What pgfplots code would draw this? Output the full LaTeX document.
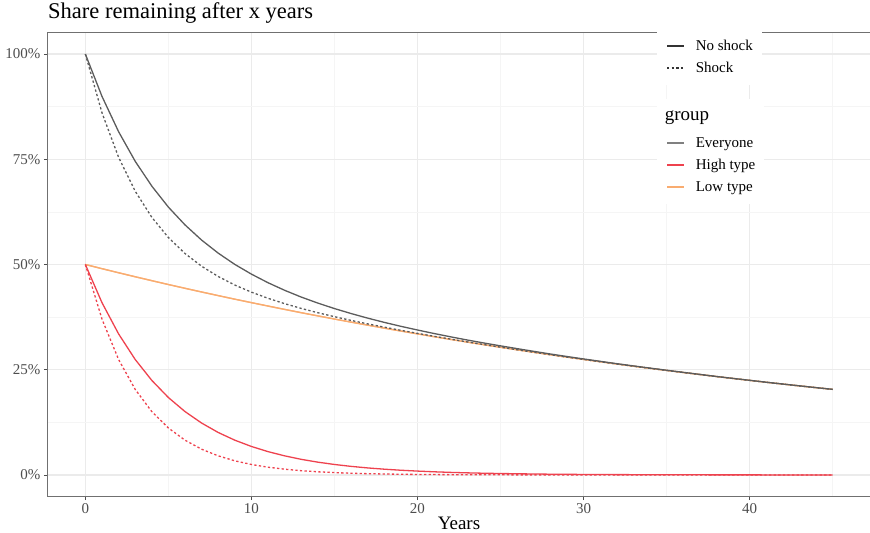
\documentclass[border=0pt]{standalone}
\usepackage{fontspec}
\setmainfont{Liberation Serif}
\usepackage{pgfplots}
\pgfplotsset{compat=1.18}
\usepackage{pgfplotstable}

\definecolor{evcol}{RGB}{92,92,92}
\definecolor{evkey}{RGB}{128,128,128}
\definecolor{hicol}{RGB}{238,66,78}
\definecolor{locol}{RGB}{249,172,112}
\definecolor{gridmaj}{RGB}{235,235,235}
\definecolor{gridmin}{RGB}{245,245,245}
\definecolor{tickcol}{RGB}{77,77,77}
\definecolor{framecol}{RGB}{112,112,112}

% share remaining (%) by year, without and with the shock
\pgfplotstableread{
year noshock shock
0 100.00 100.00
1 89.95 86.05
2 81.56 75.48
3 74.53 67.42
4 68.63 61.22
5 63.63 56.40
6 59.41 52.61
7 55.80 49.59
8 52.70 47.15
9 50.02 45.12
10 47.71 43.43
11 45.67 41.97
12 43.87 40.70
13 42.26 39.56
14 40.83 38.54
15 39.53 37.60
16 38.35 36.72
17 37.26 35.89
18 36.25 35.11
19 35.31 34.36
20 34.44 33.64
21 33.60 32.94
22 32.81 32.27
23 32.06 31.61
24 31.35 30.98
25 30.67 30.36
26 30.01 29.75
27 29.37 29.16
28 28.74 28.57
29 28.14 28.00
30 27.56 27.45
31 27.00 26.90
32 26.44 26.36
33 25.91 25.84
34 25.39 25.33
35 24.88 24.83
36 24.38 24.34
37 23.89 23.86
38 23.40 23.38
39 22.94 22.92
40 22.49 22.47
41 22.03 22.02
42 21.60 21.59
43 21.17 21.16
44 20.75 20.74
45 20.34 20.33
}\everyone

\pgfplotstableread{
year noshock shock
0 50.00 50.00
1 40.94 37.04
2 33.52 27.44
3 27.44 20.33
4 22.47 15.06
5 18.39 11.16
6 15.06 8.26
7 12.33 6.12
8 10.09 4.54
9 8.26 3.36
10 6.77 2.49
11 5.54 1.84
12 4.54 1.37
13 3.71 1.01
14 3.04 0.75
15 2.49 0.56
16 2.04 0.41
17 1.67 0.30
18 1.37 0.23
19 1.12 0.17
20 0.92 0.12
21 0.75 0.09
22 0.61 0.07
23 0.50 0.05
24 0.41 0.04
25 0.34 0.03
26 0.28 0.02
27 0.23 0.02
28 0.18 0.01
29 0.15 0.01
30 0.12 0.01
31 0.10 0.00
32 0.08 0.00
33 0.07 0.00
34 0.06 0.00
35 0.05 0.00
36 0.04 0.00
37 0.03 0.00
38 0.02 0.00
39 0.02 0.00
40 0.02 0.00
41 0.01 0.00
42 0.01 0.00
43 0.01 0.00
44 0.01 0.00
45 0.01 0.00
}\hightype

\pgfplotstableread{
year noshock shock
0 50.00 50.00
1 49.01 49.01
2 48.04 48.04
3 47.09 47.09
4 46.16 46.16
5 45.24 45.24
6 44.35 44.35
7 43.47 43.47
8 42.61 42.61
9 41.76 41.76
10 40.94 40.94
11 40.13 40.13
12 39.33 39.33
13 38.55 38.55
14 37.79 37.79
15 37.04 37.04
16 36.31 36.31
17 35.59 35.59
18 34.88 34.88
19 34.19 34.19
20 33.52 33.52
21 32.85 32.85
22 32.20 32.20
23 31.56 31.56
24 30.94 30.94
25 30.33 30.33
26 29.73 29.73
27 29.14 29.14
28 28.56 28.56
29 27.99 27.99
30 27.44 27.44
31 26.90 26.90
32 26.36 26.36
33 25.84 25.84
34 25.33 25.33
35 24.83 24.83
36 24.34 24.34
37 23.86 23.86
38 23.38 23.38
39 22.92 22.92
40 22.47 22.47
41 22.02 22.02
42 21.59 21.59
43 21.16 21.16
44 20.74 20.74
45 20.33 20.33
}\lowtype

\pgfplotsset{
  common/.style={
    scale only axis, width=822bp, height=463bp,
    xmin=-2.25, xmax=47.25, ymin=-5, ymax=105,
  },
  keyed legend/.style={
    legend image code/.code={\draw[##1, line width=1.5bp] (0bp,0bp) -- (17bp,0bp);},
    legend cell align=left,
    legend style={
      anchor=north west, fill=white, draw=none,
      font=\fontsize{15bp}{18bp}\selectfont,
      inner xsep=9bp, inner ysep=10bp,
      row sep=8bp,
      /tikz/every odd column/.style={column sep=11bp},
      nodes={inner sep=0bp, text height=11bp, text depth=3bp},
    },
  },
}

\tikzset{
  shockline/.style={line width=1.3bp, dash pattern=on 2.3bp off 2.3bp},
  solidline/.style={line width=1.3bp},
}

\begin{document}
\begin{tikzpicture}
\begin{axis}[
  common, name=main,
  xtick={0,10,...,40}, minor xtick={5,15,...,45},
  ytick={0,25,...,100}, minor ytick={12.5,37.5,62.5,87.5},
  grid=both,
  major grid style={gridmaj, line width=1.1bp},
  minor grid style={gridmin, line width=0.6bp},
  axis line style={framecol, line width=1bp},
  tick align=outside, major tick length=4bp, minor tick length=0bp,
  tick style={tickcol, line width=0.9bp},
  xtick pos=bottom, ytick pos=left,
  /pgf/number format/assume math mode=true,
  ticklabel style={font=\fontsize{15bp}{18bp}\selectfont, text=tickcol},
  yticklabel={\pgfmathprintnumber{\tick}\%},
  xlabel={Years},
  xlabel style={font=\fontsize{19bp}{22bp}\selectfont, at={(axis description cs:0.5,0)}, anchor=base, yshift=-33bp, inner sep=0bp},
  title={Share remaining after x years},
  title style={at={(axis description cs:0,1.0194)}, anchor=base west, inner sep=0bp,
    font=\fontsize{22.5bp}{26bp}\selectfont},
  keyed legend,
  legend style={at={(axis description cs:0.741,1.0086)}},
]
\addlegendimage{solidline, black!80}
\addlegendentry{No shock}
\addlegendimage{shockline, black!80}
\addlegendentry{Shock}

\addplot[locol, solidline, forget plot] table[x=year, y=shock] {\lowtype};
\addplot[locol, solidline, forget plot] table[x=year, y=noshock] {\lowtype};
\addplot[hicol, shockline, forget plot] table[x=year, y=shock] {\hightype};
\addplot[hicol, solidline, forget plot] table[x=year, y=noshock] {\hightype};
\addplot[evcol, shockline, forget plot] table[x=year, y=shock] {\everyone};
\addplot[evcol, solidline, forget plot] table[x=year, y=noshock] {\everyone};
\end{axis}

% second key: colour by group
\begin{axis}[
  common, hide axis,
  keyed legend,
  legend style={at={(axis description cs:0.741,0.8575)}},
]
\addlegendimage{empty legend}
\addlegendentry[font=\fontsize{19bp}{22bp}\selectfont, text depth=8bp]{\hspace{-31bp}group}
\addlegendimage{evkey, solidline}
\addlegendentry{Everyone}
\addlegendimage{hicol, solidline}
\addlegendentry{High type}
\addlegendimage{locol, solidline}
\addlegendentry{Low type}
\end{axis}

\pgfresetboundingbox
\path[use as bounding box] ([shift={(-48bp,-37bp)}]main.south west) rectangle ([shift={(0bp,33bp)}]main.north east);
\end{tikzpicture}
\end{document}
